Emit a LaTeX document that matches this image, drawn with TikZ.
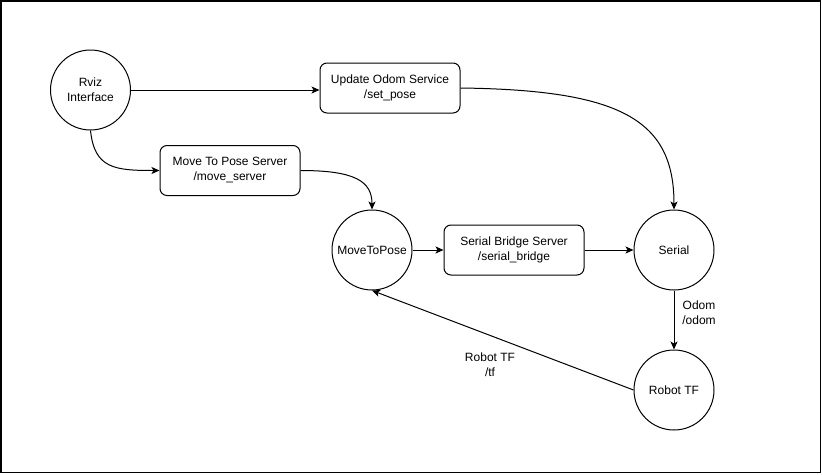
\documentclass[tikz,border=0pt]{standalone}
\usepackage{fontspec}
\setmainfont{Liberation Sans}
\usetikzlibrary{arrows.meta}
\begin{document}
\begin{tikzpicture}[x=1pt,y=-1pt,
  every node/.style={font=\fontsize{12}{15}\selectfont, align=center, inner sep=0pt},
  state/.style={draw, circle, minimum size=80pt, line width=1pt},
  svc/.style={draw, rounded corners=7pt, minimum width=140pt, minimum height=50pt, line width=1pt},
  conn/.style={line width=1pt, -{Stealth[length=8pt,width=7pt,inset=2pt]}},
  lbl/.style={fill=none}]
\useasboundingbox (0,0) rectangle (822,474);
\draw[line width=1.5pt] (0.75,0.75) rectangle (820.5,472.5);

\node[state] (rviz) at (90.5,90) {Rviz\\Interface};
\node[svc] (upd) at (390,88) {Update Odom Service\\/set\_pose};
\node[svc] (mtps) at (230,170.5) {Move To Pose Server\\/move\_server};
\node[state] (mtp) at (372,250) {MoveToPose};
\node[svc] (sbs) at (514,250) {Serial Bridge Server\\/serial\_bridge};
\node[state] (serial) at (674,250) {Serial};
\node[state] (rtf) at (674,390) {Robot TF};

\node[lbl] (odomlbl) at (699,313) {Odom\\/odom};
\node[lbl] (tflbl) at (490,365) {Robot TF\\/tf};

\draw[conn] (rviz.east) -- (upd.west |- rviz.east);
\draw[conn] (upd.east) .. controls +(160,2) and +(0,-90) .. (serial.north);
\draw[conn] (rviz.south) .. controls +(4,38) and +(-45,0) .. (mtps.west);
\draw[conn] (mtps.east) .. controls +(55,0) and +(0,-28) .. (mtp.north);
\draw[conn] (mtp.east) -- (sbs.west);
\draw[conn] (sbs.east) -- (serial.west);
\draw[conn] (serial.south) -- (rtf.north);
\draw[conn] (rtf.west) -- (mtp.south);
\end{tikzpicture}
\end{document}
